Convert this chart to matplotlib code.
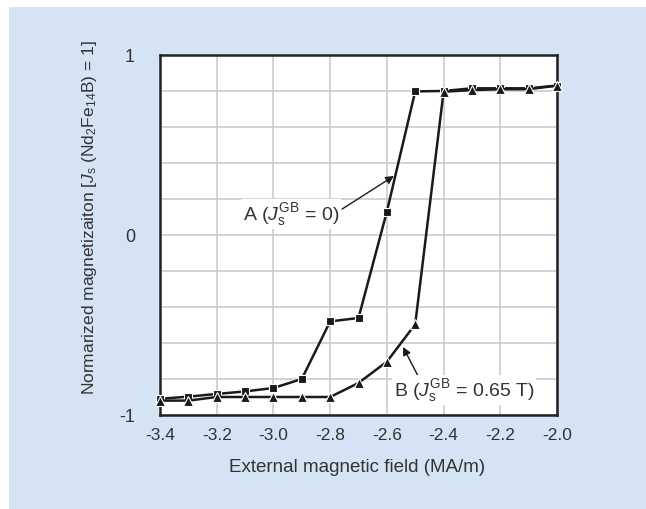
import numpy as np
import matplotlib
matplotlib.use("Agg")
import matplotlib.pyplot as plt
from matplotlib.patches import Rectangle

plt.rcParams['font.family'] = ['Liberation Sans', 'DejaVu Sans']
plt.rcParams['mathtext.fontset'] = 'custom'
plt.rcParams['mathtext.rm'] = 'Liberation Sans'
plt.rcParams['mathtext.it'] = 'Liberation Sans:italic'
plt.rcParams['axes.unicode_minus'] = False

field = [-3.4, -3.3, -3.2, -3.1, -3.0, -2.9, -2.8, -2.7, -2.6, -2.5, -2.4, -2.3, -2.2, -2.1, -2.0]
mag_a = [-0.91, -0.898, -0.883, -0.869, -0.85, -0.80, -0.48, -0.461, 0.13, 0.798, 0.80, 0.815, 0.815, 0.815, 0.83]
mag_b = [-0.92, -0.92, -0.90, -0.90, -0.90, -0.90, -0.90, -0.822, -0.704, -0.496, 0.796, 0.805, 0.81, 0.81, 0.83]

xticks = [-3.4, -3.2, -3.0, -2.8, -2.6, -2.4, -2.2, -2.0]
yticks = [-1, 0, 1]

txt = '#333333'
W, H = 646, 510
fig = plt.figure(figsize=(W / 100, H / 100), dpi=100)
fig.patches.append(Rectangle((9 / W, 0), 1, 1 - 8 / H, transform=fig.transFigure,
                             facecolor='#d4e4f4', edgecolor='none', zorder=-10))

ax = fig.add_axes([160 / W, 1 - 416 / H, 397 / W, 360 / H])
ax.set_facecolor('white')
ax.set_xlim(-3.4, -2.0)
ax.set_ylim(-1, 1)
ax.set_xticks(xticks)
ax.set_xticklabels(['%.1f' % v for v in xticks])
ax.set_yticks(yticks)
ax.set_yticks(np.arange(-0.8, 0.81, 0.2), minor=True)
ax.grid(True, which='both', color='#c3c7cf', linewidth=1.1)
ax.set_axisbelow(True)
ax.tick_params(which='both', length=0)
ax.tick_params(axis='x', pad=9, labelsize=12.5, labelcolor=txt)
ax.tick_params(axis='y', pad=18, labelsize=13, labelcolor=txt)
for s in ax.spines.values():
    s.set_color('#222222')
    s.set_linewidth(1.8)

ax.plot(field, mag_a, color='#1a1a1a', lw=1.8, marker='s', ms=6,
        mfc='#1a1a1a', mec='white', mew=0.8, clip_on=False, zorder=3)
ax.plot(field, mag_b, color='#1a1a1a', lw=1.8, marker='^', ms=7.5,
        mfc='#1a1a1a', mec='white', mew=0.8, clip_on=False, zorder=3)

ap = dict(arrowstyle='-|>', color='#1a1a1a', lw=1.0, mutation_scale=12, shrinkA=0, shrinkB=0)
ax.annotate('', xy=(-2.575, 0.328), xytext=(-2.758, 0.144), arrowprops=ap, zorder=4)
ax.annotate('', xy=(-2.543, -0.622), xytext=(-2.466, -0.856), arrowprops=ap, zorder=4)

bb = dict(facecolor='white', edgecolor='none', pad=1)
ax.text(-2.938, 0.117, r'A ($\mathit{J}_\mathregular{s}^\mathregular{GB}$ = 0)', fontsize=14,
        color=txt, ha='center', va='center', bbox=bb, zorder=5)
ax.text(-2.328, -0.86, r'B ($\mathit{J}_\mathregular{s}^\mathregular{GB}$ = 0.65 T)', fontsize=14,
        color=txt, ha='center', va='center', bbox=bb, zorder=5)

fig.text(357 / W, 1 - 468 / H, 'External magnetic field (MA/m)', fontsize=13.5,
         color=txt, ha='center', va='center')
fig.text(90 / W, 1 - 218 / H,
         r'Normarized magnetizaiton [$\mathit{J}_\mathregular{s}$ (Nd$_\mathregular{2}$Fe$_\mathregular{14}$B) = 1]',
         fontsize=12.5, color=txt, rotation=90, ha='center', va='center')

fig.savefig('out.png', dpi=100)
